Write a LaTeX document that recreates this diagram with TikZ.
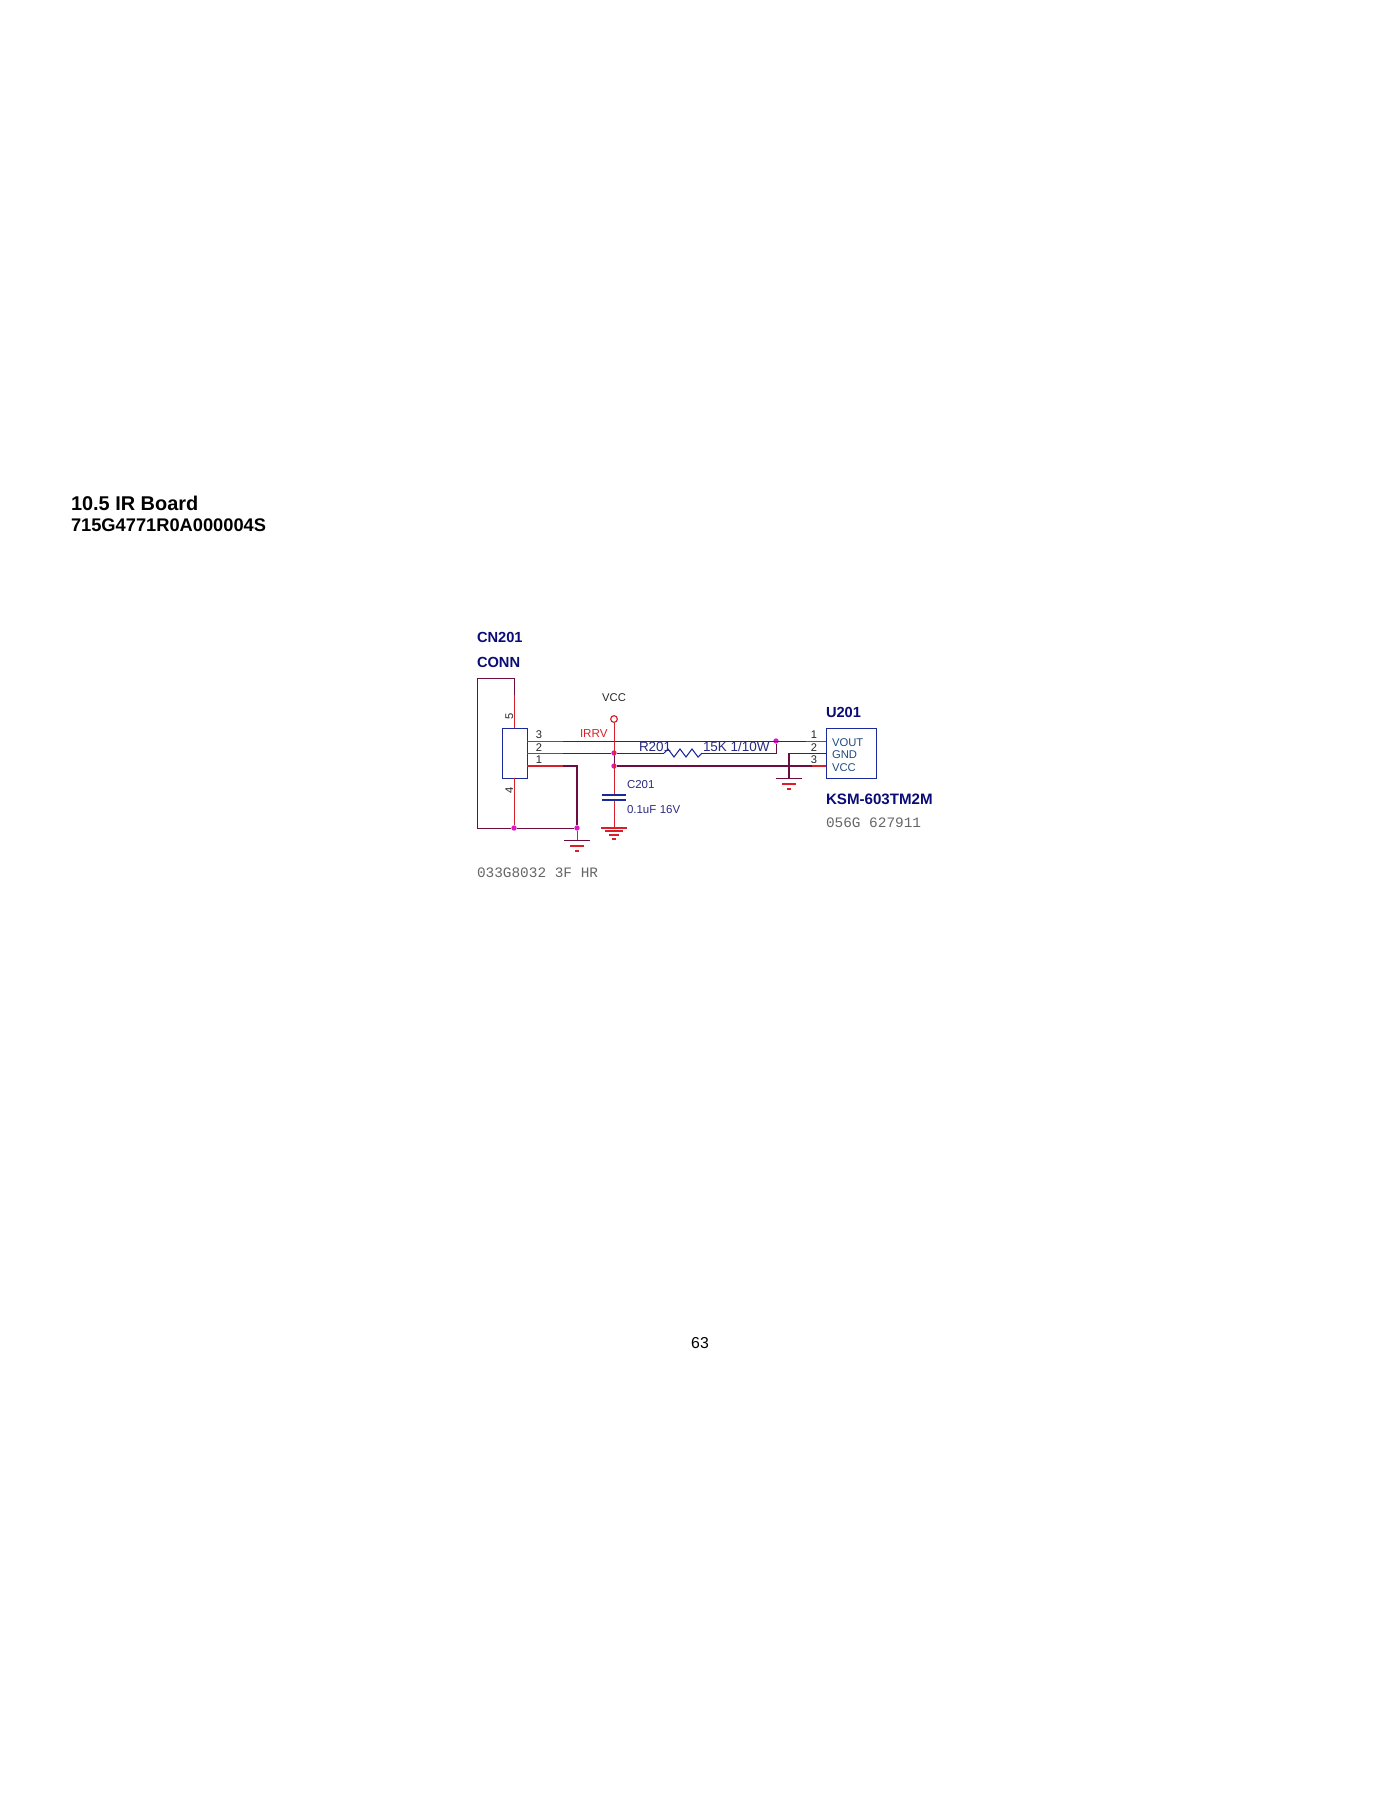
\documentclass[tikz,border=0pt]{standalone}
\usepackage{fontspec}
\setmainfont{Liberation Sans}
\newfontfamily\partfont{Liberation Mono}
\usepackage{xcolor}
\usetikzlibrary{positioning}
\definecolor{wirecol}{HTML}{6E0B3F}
\definecolor{pinred}{HTML}{D8202A}
\definecolor{boxblue}{HTML}{1A2A9A}
\definecolor{refblue}{HTML}{0B0B78}
\definecolor{valblue}{HTML}{2A2A80}
\definecolor{pinblue}{HTML}{1F4A80}
\definecolor{dotcol}{HTML}{D81AC8}
\newcommand{\fsz}[1]{\fontsize{#1}{#1}\selectfont}
\begin{document}
\begin{tikzpicture}
    [
        x=.03cm, y=-.03cm,
        txt/.style={anchor=base west, inner sep=0pt, outer sep=0pt},
        heading/.style={txt, font=\fsz{17}\bfseries},
        subheading/.style={txt, font=\fsz{15.6}\bfseries},
        reflabel/.style={txt, text=refblue, font=\fsz{12.5}\bfseries},
        vallabel/.style={txt, text=valblue, font=\fsz{9.8}},
        reslabel/.style={txt, text=valblue, font=\fsz{11.5}},
        partlabel/.style={txt, text=black!60, font=\fsz{12.3}\partfont},
        pinnum/.style={anchor=base, inner sep=0pt, text=black!85, font=\fsz{9.5}},
        pinname/.style={txt, text=pinblue, font=\fsz{9.6}},
        wire/.style={draw=wirecol, line width=.75pt},
        thickwire/.style={draw=wirecol, line width=1.9pt},
        stub/.style={draw=pinred, line width=.75pt},
        thickstub/.style={draw=pinred, line width=1.9pt},
        partbox/.style={draw=boxblue, line width=.8pt, minimum width=#1, minimum height=1.5cm, inner sep=0pt},
        junction/.style={circle, fill=dotcol, inner sep=0pt, minimum size=4.6pt}
    ]

    % page size
    \useasboundingbox (0,0) rectangle (1400,1812);

    \node[heading] (title) at (71,510) {10.5 IR Board};
    \node[subheading] (boardno) at (71,531) {715G4771R0A000004S};
    \node[anchor=base, inner sep=0pt, font=\fsz{13.5}] (pageno) at (700,1348) {63};

    % parts
    \node[partbox=.75cm] (cn) at (515,753) {};
    \node[partbox=1.5cm] (u) at (851,753) {};

    \coordinate (rectTL) at (477,678);
    \coordinate (rectTR) at (514,678);
    \coordinate (rectBL) at (477,828);
    \coordinate (cnT) at (514,728);
    \coordinate (cnB) at (514,778);
    \coordinate (cnP3) at (527,741);
    \coordinate (cnP2) at (527,753);
    \coordinate (cnP1) at (527,766);
    \coordinate (uP1) at (826,741);
    \coordinate (uP2) at (826,753);
    \coordinate (uP3) at (826,766);
    \coordinate (resL) at (664,753);
    \coordinate (resR) at (702,753);
    \coordinate (resEnd) at (776,753);
    \coordinate (capT) at (614,795);
    \coordinate (capB) at (614,800);
    \coordinate (gndA) at (577,840);
    \coordinate (gndB) at (614,828);
    \coordinate (gndC) at (789,778);
    \coordinate (gndTee) at (789,753);
    \coordinate (cornerA) at (577,766);

    \node[junction] (dotA) at (514,828) {};
    \node[junction] (dotB) at (577,828) {};
    \node[junction] (dotC) at (614,753) {};
    \node[junction] (dotD) at (614,766) {};
    \node[junction] (dotE) at (776,741) {};
    \node[circle, draw=pinred, line width=1pt, inner sep=0pt, minimum size=.2cm] (vccring) at (614,719) {};

    % wires
    \draw[wire] (cnT) -- (rectTR) -- (rectTL) -- (rectBL) -- (dotA) -- (dotB);
    \draw[stub] (cnT) -- (514,695);
    \draw[stub] (cnB) -- (dotA);
    \draw[wire] (cnP3) -- (uP1);
    \draw[wire] (cnP2) -- (dotC) -- (resL);
    \draw[stub] (cnP3) -- (563,741);
    \draw[stub] (cnP2) -- (563,753);
    \draw[stub] (uP1) -- (806,741);
    \draw[stub] (uP2) -- (806,753);
    \draw[thickwire] (cnP1) -- (cornerA) -- (dotB);
    \draw[thickstub] (cnP1) -- (563,766);
    \draw[stub] (dotB) -- (gndA);
    \draw[thickwire] (dotD) -- (uP3);
    \draw[thickstub] (uP3) -- (812,766);
    \draw[wire] (uP2) -- (gndTee);
    \draw[thickwire] (gndTee) -- (gndC);
    \draw[wire] (resR) -- (resEnd) -- (dotE);

    % VCC down to the capacitor
    \draw[stub] (vccring) -- (capT);
    \draw[wire] (dotC) -- (dotD);
    \draw[stub] (capB) -- (gndB);
    \foreach \plate in {capT,capB}
        \draw[draw=boxblue, line width=.9pt, shift={(\plate)}] (-12,0) -- (12,0);

    % R201
    \draw[draw=boxblue, line width=.9pt] (resL) -- (668,749) -- (674,757) -- (680,749) -- (686,757) -- (692,749) -- (698,757) -- (resR);

    % grounds
    \foreach \g in {gndA,gndC} {
        \draw[wire, shift={(\g)}] (-13,0) -- (13,0);
        \draw[stub, line width=1.1pt, shift={(\g)}] (-7,6) -- (7,6);
        \draw[stub, line width=1.1pt, shift={(\g)}] (-2,11) -- (2,11);
    }
    \draw[stub, line width=1.2pt, shift={(gndB)}] (-13,0) -- (13,0);
    \draw[stub, line width=1.2pt, shift={(gndB)}] (-9,3) -- (9,3);
    \draw[stub, line width=1.2pt, shift={(gndB)}] (-5,7) -- (5,7);
    \draw[stub, line width=.9pt, shift={(gndB)}] (-2,11) -- (2,11);

    % labels
    \node[reflabel] (cnref) at (477,642) {CN201};
    \node[reflabel] (cnval) at (477,667) {CONN};
    \node[reflabel] (uref) at (826,717) {U201};
    \node[reflabel, font=\fsz{12.9}\bfseries] (uval) at (826,804) {KSM-603TM2M};
    \node[partlabel] (cnpart) at (477,877) {033G8032 3F HR};
    \node[partlabel] (upart) at (826,827) {056G 627911};

    \node[anchor=base, inner sep=0pt, text=black!85, font=\fsz{9.6}] (vcclabel) at (614,701) {VCC};
    \node[txt, text=pinred, font=\fsz{9.9}] (irrv) at (580,737) {IRRV};
    \node[reslabel] (rref) at (639,751) {R201};
    \node[reslabel] (rval) at (703,751) {15K 1/10W};
    \node[vallabel] (cref) at (627,788) {C201};
    \node[vallabel] (cval) at (627,813) {0.1uF\hspace{.3em}16V};

    \node[pinnum, rotate=90] (pin5) at (513,716) {5};
    \node[pinnum, rotate=90] (pin4) at (513,790) {4};
    \foreach \n/\num/\px/\py in {a/3/539/738,b/2/539/751,c/1/539/763,d/1/814/738,e/2/814/751,f/3/814/763}
        \node[pinnum] (pin\n) at (\px,\py) {\num};

    \node[pinname] (vout) at (832,746) {VOUT};
    \node[pinname] (gnd) at (832,758) {GND};
    \node[pinname] (vccpin) at (832,771) {VCC};
\end{tikzpicture}
\end{document}
